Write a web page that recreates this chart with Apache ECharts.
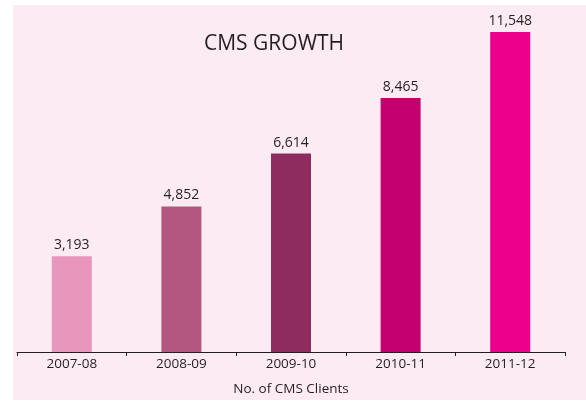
<!DOCTYPE html>
<html>
<head>
<meta charset="utf-8">
<script src="https://cdn.jsdelivr.net/npm/echarts@6/dist/echarts.min.js"></script>
<style>
html,body{margin:0;padding:0;background:#ffffff;}
#bg{position:absolute;left:13px;top:5px;width:573px;height:395px;background:#FDEBF3;}
#chart{position:absolute;left:0;top:0;width:586px;height:402px;}
</style>
</head>
<body>
<div id="bg"></div>
<div id="chart"></div>
<script>
var categories = ['2007-08', '2008-09', '2009-10', '2010-11', '2011-12'];
var clients = [3193, 4852, 6614, 8465, 11548];
var barColors = ['#E896BC', '#B3577F', '#8E2C60', '#C4006E', '#EC008C'];

var chart = echarts.init(document.getElementById('chart'), null, {renderer: 'canvas'});
var font = '"Open Sans", "DejaVu Sans", sans-serif';
chart.setOption({
  backgroundColor: 'transparent',
  animation: false,
  title: {
    text: 'CMS GROWTH',
    left: 199,
    top: 29,
    textStyle: {fontFamily: font, fontSize: 21, fontWeight: 'normal', color: '#231F20'}
  },
  grid: {left: 17, right: 21, top: 32, bottom: 50},
  xAxis: {
    type: 'category',
    data: categories,
    name: 'No. of CMS Clients',
    nameLocation: 'middle',
    nameGap: 30,
    nameTextStyle: {fontFamily: font, fontSize: 13.5, color: '#231F20'},
    axisLine: {lineStyle: {color: '#231F20', width: 1}},
    axisTick: {show: true, length: 4, lineStyle: {color: '#231F20'}},
    axisLabel: {fontFamily: font, fontSize: 13.5, color: '#231F20', margin: 5}
  },
  yAxis: {
    type: 'value',
    min: 0,
    max: 10667,
    show: false,
    splitLine: {show: false}
  },
  series: [{
    type: 'bar',
    barWidth: 40,
    clip: true,
    data: clients.map(function (v, i) {
      return {value: v, itemStyle: {color: barColors[i]}};
    }),
    label: {
      show: true,
      position: 'top',
      distance: 4,
      fontFamily: font,
      fontSize: 14,
      color: '#231F20',
      formatter: function (p) { return p.value.toLocaleString('en-US'); }
    }
  }]
});
</script>
</body>
</html>
